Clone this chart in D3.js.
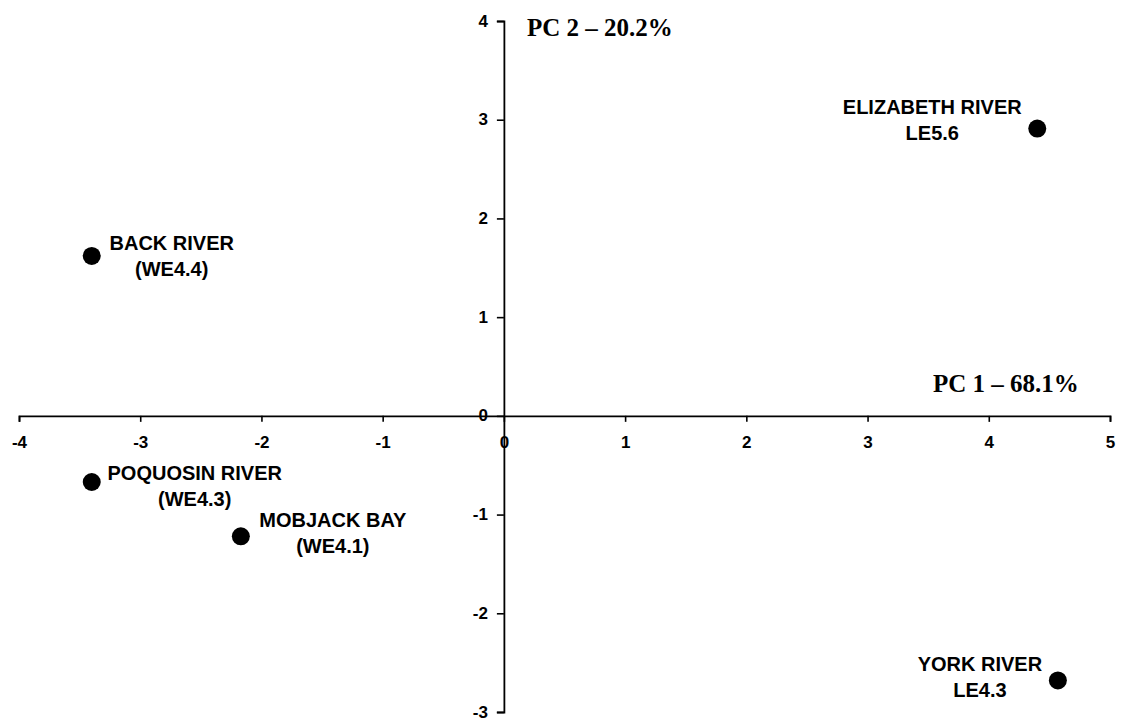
<!DOCTYPE html>
<html>
<head>
<meta charset="utf-8">
<script src="https://cdn.jsdelivr.net/npm/d3@7"></script>
<style>
  html, body { margin: 0; padding: 0; background: #fff; }
  svg { display: block; }
  .tick text { font-family: "Liberation Sans", Arial, sans-serif; font-weight: bold; font-size: 17px; fill: #000; }
  .lab { font-family: "Liberation Sans", Arial, sans-serif; font-weight: bold; font-size: 20px; fill: #000; }
  .ttl { font-family: "Liberation Serif", "Times New Roman", serif; font-weight: bold; font-size: 25px; fill: #000; }
</style>
</head>
<body>
<script>
// ---- data ----
const sites = ["ELIZABETH RIVER", "BACK RIVER", "POQUOSIN RIVER", "MOBJACK BAY", "YORK RIVER"];
const codes = ["LE5.6", "(WE4.4)", "(WE4.3)", "(WE4.1)", "LE4.3"];
const pc1 = [4.40, -3.40, -3.40, -2.17, 4.57];
const pc2 = [2.91, 1.62, -0.67, -1.22, -2.68];
const xTicks = [-4, -3, -2, -1, 0, 1, 2, 3, 4, 5];
const yTicks = [-3, -2, -1, 0, 1, 2, 3, 4];
const xTitle = "PC 1 \u2013 68.1%";
const yTitle = "PC 2 \u2013 20.2%";

// label placement (pixel offsets of first-line centre from point)
const labelOffsets = [
  { dx: -105, dy: -22 },
  { dx: 80, dy: -13 },
  { dx: 103, dy: -9 },
  { dx: 92, dy: -16 },
  { dx: -78, dy: -16 }
];

const W = 1121, H = 723;
const svg = d3.select("body").append("svg").attr("width", W).attr("height", H);

const x = d3.scaleLinear().domain([-4, 5]).range([19, 1110]);
const y = d3.scaleLinear().domain([-3, 4]).range([712, 21]);

// x axis at y=0
const gx = svg.append("g")
  .attr("transform", `translate(0,${y(0)})`)
  .call(d3.axisBottom(x).tickValues(xTicks).tickSize(6).tickSizeOuter(6).tickFormat(d => String(d)));
// y axis at x=0
const gy = svg.append("g")
  .attr("transform", `translate(${x(0)},0)`)
  .call(d3.axisLeft(y).tickValues(yTicks).tickSize(7).tickSizeOuter(7).tickPadding(9).tickFormat(d => String(d)));

[gx, gy].forEach(g => {
  g.select(".domain").attr("stroke", "#000").attr("stroke-width", 1.8);
  g.selectAll(".tick line").attr("stroke", "#000").attr("stroke-width", 1.6);
});
gx.selectAll(".tick text").attr("y", 20).attr("dy", "0.71em");
gy.selectAll(".tick text").attr("dy", "0.3em");

// titles
svg.append("text").attr("class", "ttl").attr("x", x(0) + 23).attr("y", 36).text(yTitle);
svg.append("text").attr("class", "ttl").attr("x", 933).attr("y", 392).text(xTitle);

// points
const pts = sites.map((s, i) => ({ s, c: codes[i], x: pc1[i], y: pc2[i], o: labelOffsets[i] }));
svg.selectAll("circle.pt").data(pts).enter().append("circle")
  .attr("class", "pt")
  .attr("cx", d => x(d.x)).attr("cy", d => y(d.y)).attr("r", 9).attr("fill", "#000");

const lg = svg.selectAll("g.lbl").data(pts).enter().append("g").attr("class", "lbl")
  .attr("transform", d => `translate(${x(d.x) + d.o.dx},${y(d.y) + d.o.dy})`);
lg.append("text").attr("class", "lab").attr("text-anchor", "middle").attr("y", 0).attr("dy", "0.35em").text(d => d.s);
lg.append("text").attr("class", "lab").attr("text-anchor", "middle").attr("y", 26).attr("dy", "0.35em").text(d => d.c);
</script>
</body>
</html>
